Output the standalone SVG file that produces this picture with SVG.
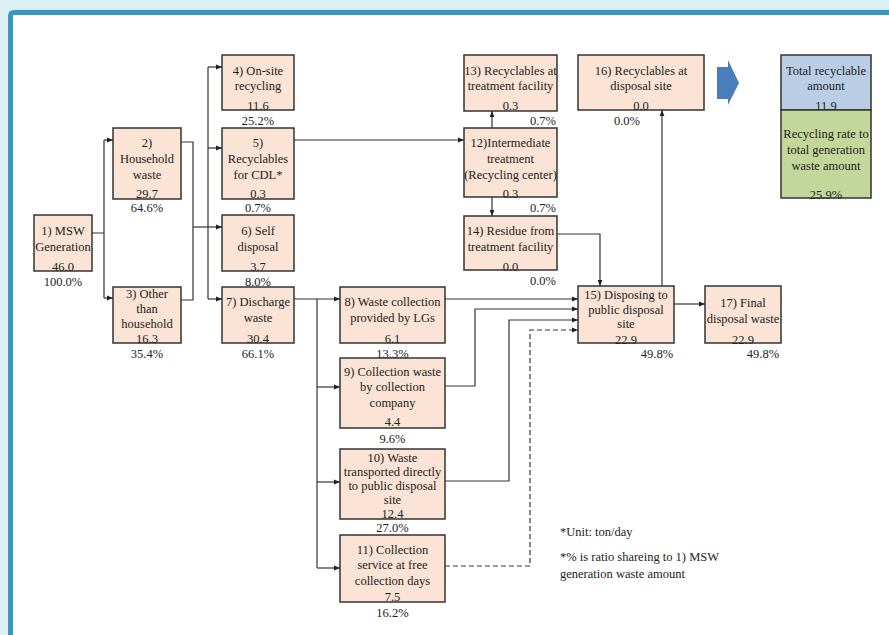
<svg xmlns="http://www.w3.org/2000/svg" width="889" height="635" viewBox="0 0 889 635">
<style>
.bx{fill:#fbe4d5;stroke:#333;stroke-width:1.5}
.t{font-family:'Liberation Serif','Times New Roman','DejaVu Serif',serif;font-size:12.5px;fill:#222;text-anchor:middle}
.e{text-anchor:end}
.s{text-anchor:start}
.c{fill:none;stroke:#333;stroke-width:1.2}
.d{stroke-dasharray:5,3}
</style>
<defs>
<marker id="ah" viewBox="0 0 10 10" refX="10" refY="5" markerWidth="6" markerHeight="6" orient="auto" markerUnits="userSpaceOnUse">
<path d="M0,1 L10,5 L0,9 Z" fill="#222"/>
</marker>
</defs>
<rect x="0" y="0" width="889" height="635" fill="#dceff4"/>
<path d="M8,635 V16 Q8,10 14,10 H889 V15 H13 V635 Z" fill="#3a97bf"/>
<rect x="13" y="15" width="876" height="620" fill="#ffffff"/>

<g id="connectors">
<path class="c" d="M92,233 H104 M104,140 V298" />
<path class="c" marker-end="url(#ah)" d="M104,140 H113"/>
<path class="c" marker-end="url(#ah)" d="M104,298 H113"/>
<path class="c" d="M181,142 H193 V300 H181"/>
<path class="c" marker-end="url(#ah)" d="M193,227 H222"/>
<path class="c" d="M208,67 V299"/>
<path class="c" marker-end="url(#ah)" d="M208,67 H222"/>
<path class="c" marker-end="url(#ah)" d="M208,148 H222"/>
<path class="c" marker-end="url(#ah)" d="M208,299 H222"/>
<path class="c" marker-end="url(#ah)" d="M294,140 H464"/>
<path class="c" marker-end="url(#ah)" d="M492,128 V111"/>
<path class="c" marker-end="url(#ah)" d="M492,197 V216"/>
<path class="c" marker-end="url(#ah)" d="M557,234 H600 V286"/>
<path class="c" marker-end="url(#ah)" d="M662,286 V110"/>
<path class="c" marker-end="url(#ah)" d="M294,299 H340"/>
<path class="c" d="M317,299 V568"/>
<path class="c" marker-end="url(#ah)" d="M317,387 H340"/>
<path class="c" marker-end="url(#ah)" d="M317,482 H340"/>
<path class="c" marker-end="url(#ah)" d="M317,568 H340"/>
<path class="c" marker-end="url(#ah)" d="M445,299 H578"/>
<path class="c" marker-end="url(#ah)" d="M445,386 H475 V309 H578"/>
<path class="c" marker-end="url(#ah)" d="M445,481 H509 V320 H578"/>
<path class="c d" marker-end="url(#ah)" d="M445,566 H530 V330 H578"/>
<path class="c" marker-end="url(#ah)" d="M674,304 H705"/>
</g>

<g id="n1"><rect class="bx" x="34" y="215" width="58" height="56"/>
<text class="t" x="63" y="235">1) MSW</text><text class="t" x="63" y="251">Generation</text><text class="t" x="63" y="271">46.0</text><text class="t" x="63" y="286">100.0%</text></g>

<g id="n2"><rect class="bx" x="113" y="128" width="68" height="71"/>
<text class="t" x="147" y="147">2)</text><text class="t" x="147" y="163">Household</text><text class="t" x="147" y="179">waste</text><text class="t" x="147" y="198">29.7</text><text class="t" x="147" y="212">64.6%</text></g>

<g id="n3"><rect class="bx" x="113" y="287" width="68" height="56"/>
<text class="t" x="147" y="298">3) Other</text><text class="t" x="147" y="313">than</text><text class="t" x="147" y="328">household</text><text class="t" x="147" y="343">16.3</text><text class="t" x="147" y="358">35.4%</text></g>

<g id="n4"><rect class="bx" x="222" y="55" width="72" height="55"/>
<text class="t" x="258" y="75">4) On-site</text><text class="t" x="258" y="90">recycling</text><text class="t" x="258" y="110">11.6</text><text class="t" x="258" y="125">25.2%</text></g>

<g id="n5"><rect class="bx" x="222" y="128" width="72" height="71"/>
<text class="t" x="258" y="147">5)</text><text class="t" x="258" y="163">Recyclables</text><text class="t" x="258" y="179">for CDL*</text><text class="t" x="258" y="198">0.3</text><text class="t" x="258" y="212">0.7%</text></g>

<g id="n6"><rect class="bx" x="222" y="215" width="72" height="56"/>
<text class="t" x="258" y="235">6) Self</text><text class="t" x="258" y="251">disposal</text><text class="t" x="258" y="271">3.7</text><text class="t" x="258" y="286">8.0%</text></g>

<g id="n7"><rect class="bx" x="222" y="287" width="72" height="56"/>
<text class="t" x="258" y="306">7) Discharge</text><text class="t" x="258" y="322">waste</text><text class="t" x="258" y="343">30.4</text><text class="t" x="258" y="358">66.1%</text></g>

<g id="n8"><rect class="bx" x="340" y="287" width="105" height="56"/>
<text class="t" x="392.5" y="306">8) Waste collection</text><text class="t" x="392.5" y="322">provided by LGs</text><text class="t" x="392.5" y="343">6.1</text><text class="t" x="392.5" y="358">13.3%</text></g>

<g id="n9"><rect class="bx" x="340" y="358" width="105" height="70"/>
<text class="t" x="392.5" y="376">9) Collection waste</text><text class="t" x="392.5" y="391">by collection</text><text class="t" x="392.5" y="407">company</text><text class="t" x="392.5" y="426">4.4</text><text class="t" x="392.5" y="443">9.6%</text></g>

<g id="n10"><rect class="bx" x="340" y="449" width="105" height="70"/>
<text class="t" x="392.5" y="462">10) Waste</text><text class="t" x="392.5" y="476">transported directly</text><text class="t" x="392.5" y="490">to public disposal</text><text class="t" x="392.5" y="504">site</text><text class="t" x="392.5" y="518">12.4</text><text class="t" x="392.5" y="532">27.0%</text></g>

<g id="n11"><rect class="bx" x="340" y="535" width="105" height="67"/>
<text class="t" x="392.5" y="554">11) Collection</text><text class="t" x="392.5" y="569">service at free</text><text class="t" x="392.5" y="585">collection days</text><text class="t" x="392.5" y="601">7.5</text><text class="t" x="392.5" y="617">16.2%</text></g>

<g id="n12"><rect class="bx" x="464" y="128" width="93" height="69"/>
<text class="t" x="510.5" y="147">12)Intermediate</text><text class="t" x="510.5" y="163">treatment</text><text class="t" x="510.5" y="179">(Recycling center)</text><text class="t" x="510.5" y="198">0.3</text><text class="t e" x="556" y="212">0.7%</text></g>

<g id="n13"><rect class="bx" x="464" y="55" width="93" height="56"/>
<text class="t" x="510.5" y="75">13) Recyclables at</text><text class="t" x="510.5" y="90">treatment facility</text><text class="t" x="510.5" y="110">0.3</text><text class="t e" x="556" y="125">0.7%</text></g>

<g id="n14"><rect class="bx" x="464" y="216" width="93" height="54"/>
<text class="t" x="510.5" y="235">14) Residue from</text><text class="t" x="510.5" y="251">treatment facility</text><text class="t" x="510.5" y="271">0.0</text><text class="t e" x="556" y="285">0.0%</text></g>

<g id="n16"><rect class="bx" x="578" y="55" width="126" height="55"/>
<text class="t" x="641" y="75">16) Recyclables at</text><text class="t" x="641" y="90">disposal site</text><text class="t" x="641" y="110">0.0</text><text class="t" x="627" y="125">0.0%</text></g>

<g id="arrow"><path d="M717,67 H728 V60 L739,83 L728,105 V99 H717 Z" fill="#4a7ebb"/></g>

<g id="total"><rect x="781" y="55" width="90" height="55" fill="#b9cde5" stroke="#333" stroke-width="1.5"/>
<text class="t" x="826" y="75">Total recyclable</text><text class="t" x="826" y="90">amount</text><text class="t" x="826" y="110">11.9</text></g>

<g id="rate"><rect x="781" y="110" width="90" height="88" fill="#c4d79b" stroke="#333" stroke-width="1.5"/>
<text class="t" x="826" y="138">Recycling rate to</text><text class="t" x="826" y="154">total generation</text><text class="t" x="826" y="170">waste amount</text><text class="t" x="826" y="199">25.9%</text></g>

<g id="n15"><rect class="bx" x="578" y="286" width="96" height="57"/>
<text class="t" x="626" y="299">15) Disposing to</text><text class="t" x="626" y="314">public disposal</text><text class="t" x="626" y="328">site</text><text class="t" x="626" y="344">22.9</text><text class="t" x="657" y="358">49.8%</text></g>

<g id="n17"><rect class="bx" x="705" y="286" width="76" height="57"/>
<text class="t" x="743" y="307">17) Final</text><text class="t" x="743" y="323">disposal waste</text><text class="t" x="743" y="344">22.9</text><text class="t" x="763" y="358">49.8%</text></g>

<g id="notes">
<text class="t s" x="560" y="536">*Unit: ton/day</text>
<text class="t s" x="560" y="561">*% is ratio shareing to 1) MSW</text>
<text class="t s" x="560" y="578">generation waste amount</text>
</g>
</svg>
